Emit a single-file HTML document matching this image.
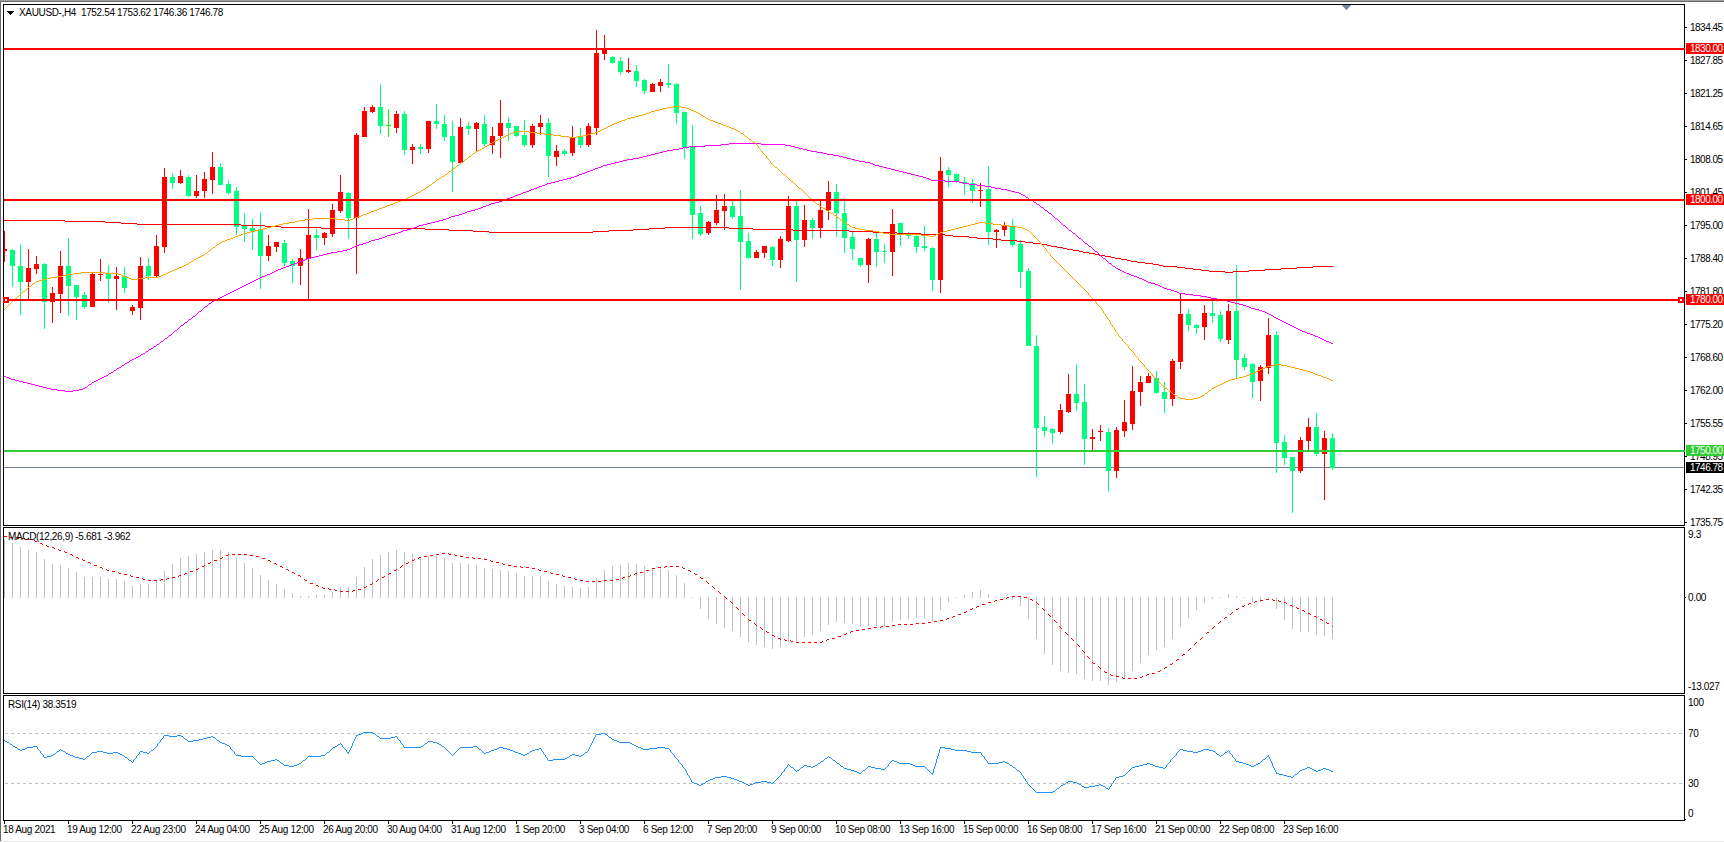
<!DOCTYPE html>
<html><head><meta charset="utf-8"><title>XAUUSD H4</title>
<style>html,body{margin:0;padding:0;background:#fff;overflow:hidden}body{width:1724px;height:842px;position:relative;font-family:"Liberation Sans",sans-serif;}svg{position:absolute;left:0;top:0;display:block}text{font-family:"Liberation Sans",sans-serif;font-size:11px;fill:#000}.w{fill:#fff}</style></head><body>
<svg width="1724" height="842" viewBox="0 0 1724 842" shape-rendering="crispEdges">
<rect x="0" y="0" width="1724" height="842" fill="#fff"/>
<rect x="0" y="0" width="1724" height="1" fill="#a0a0a0"/>
<rect x="0" y="1" width="1724" height="1" fill="#696969"/>
<rect x="0" y="1" width="1" height="840" fill="#696969"/>
<rect x="0" y="0" width="1" height="1" fill="#a0a0a0"/>
<rect x="0" y="841" width="1724" height="1" fill="#e4e4e4"/>
<defs><clipPath id="cm"><rect x="4" y="5" width="1680" height="520"/></clipPath><clipPath id="cd"><rect x="4" y="528" width="1680" height="165"/></clipPath><clipPath id="cr"><rect x="4" y="696" width="1680" height="124"/></clipPath></defs>
<g clip-path="url(#cm)">
<rect x="4" y="467" width="1681" height="1" fill="#708090"/>
<path d="M4 231h1v31h-1zM28 249h1v52h-1zM36 256h1v18h-1zM52 287h1v36h-1zM60 251h1v62h-1zM92 273h1v34h-1zM100 259h1v22h-1zM116 267h1v43h-1zM132 305h1v10h-1zM140 257h1v63h-1zM156 235h1v43h-1zM164 168h1v85h-1zM180 170h1v14h-1zM196 175h1v23h-1zM204 172h1v26h-1zM212 152h1v42h-1zM268 235h1v26h-1zM276 242h1v10h-1zM300 249h1v36h-1zM308 209h1v91h-1zM324 232h1v13h-1zM332 204h1v33h-1zM340 175h1v38h-1zM356 133h1v141h-1zM364 107h1v30h-1zM372 105h1v8h-1zM396 111h1v22h-1zM412 144h1v20h-1zM428 121h1v32h-1zM460 118h1v46h-1zM476 122h1v29h-1zM492 127h1v27h-1zM500 100h1v58h-1zM532 124h1v24h-1zM540 115h1v20h-1zM556 145h1v21h-1zM572 126h1v30h-1zM588 123h1v24h-1zM596 30h1v105h-1zM604 35h1v25h-1zM628 58h1v15h-1zM652 83h1v9h-1zM660 79h1v13h-1zM708 221h1v14h-1zM716 195h1v30h-1zM724 194h1v36h-1zM756 250h1v8h-1zM764 246h1v12h-1zM780 236h1v32h-1zM788 196h1v46h-1zM804 205h1v42h-1zM820 200h1v38h-1zM828 181h1v39h-1zM868 238h1v45h-1zM892 209h1v67h-1zM940 157h1v136h-1zM980 183h1v24h-1zM996 229h1v19h-1zM1004 222h1v14h-1zM1060 404h1v30h-1zM1068 374h1v39h-1zM1092 429h1v21h-1zM1100 425h1v16h-1zM1116 427h1v51h-1zM1124 400h1v37h-1zM1132 366h1v64h-1zM1140 376h1v30h-1zM1148 373h1v10h-1zM1172 359h1v47h-1zM1180 293h1v76h-1zM1204 305h1v35h-1zM1228 304h1v40h-1zM1260 365h1v36h-1zM1268 318h1v56h-1zM1300 437h1v36h-1zM1308 418h1v33h-1zM1324 431h1v69h-1z" fill="#ff0000"/>
<path d="M2 249h5v2h-5zM26 268h5v14h-5zM34 264h5v5h-5zM50 293h5v9h-5zM58 266h5v28h-5zM90 274h5v33h-5zM98 274h5v1h-5zM114 276h5v3h-5zM130 307h5v4h-5zM138 266h5v42h-5zM154 246h5v30h-5zM162 177h5v70h-5zM178 176h5v7h-5zM194 191h5v5h-5zM202 179h5v12h-5zM210 167h5v13h-5zM266 246h5v10h-5zM274 242h5v5h-5zM298 258h5v8h-5zM306 235h5v24h-5zM322 233h5v5h-5zM330 210h5v24h-5zM338 192h5v19h-5zM354 135h5v83h-5zM362 111h5v26h-5zM370 107h5v5h-5zM394 114h5v14h-5zM410 147h5v3h-5zM426 121h5v28h-5zM458 127h5v36h-5zM474 123h5v6h-5zM490 136h5v9h-5zM498 123h5v13h-5zM530 126h5v19h-5zM538 123h5v4h-5zM554 151h5v6h-5zM570 137h5v16h-5zM586 126h5v19h-5zM594 53h5v75h-5zM602 48h5v6h-5zM626 70h5v2h-5zM650 84h5v8h-5zM658 82h5v4h-5zM706 222h5v11h-5zM714 210h5v13h-5zM722 206h5v5h-5zM754 252h5v6h-5zM762 246h5v7h-5zM778 239h5v21h-5zM786 206h5v35h-5zM802 220h5v20h-5zM818 210h5v18h-5zM826 192h5v18h-5zM866 239h5v26h-5zM890 224h5v28h-5zM938 171h5v109h-5zM978 190h5v1h-5zM994 230h5v2h-5zM1002 226h5v4h-5zM1058 410h5v22h-5zM1066 394h5v18h-5zM1090 437h5v2h-5zM1098 431h5v1h-5zM1114 430h5v41h-5zM1122 422h5v9h-5zM1130 391h5v33h-5zM1138 382h5v10h-5zM1146 376h5v7h-5zM1170 361h5v38h-5zM1178 314h5v48h-5zM1202 313h5v14h-5zM1226 311h5v29h-5zM1258 367h5v14h-5zM1266 335h5v33h-5zM1298 440h5v31h-5zM1306 427h5v14h-5zM1322 438h5v16h-5z" fill="#ff0000"/>
<path d="M12 249h1v38h-1zM20 244h1v71h-1zM44 263h1v66h-1zM68 238h1v78h-1zM76 285h1v35h-1zM84 292h1v17h-1zM108 265h1v38h-1zM124 267h1v26h-1zM148 258h1v22h-1zM172 173h1v16h-1zM188 175h1v22h-1zM220 163h1v22h-1zM228 180h1v15h-1zM236 187h1v48h-1zM244 213h1v29h-1zM252 219h1v31h-1zM260 212h1v77h-1zM284 240h1v26h-1zM292 259h1v24h-1zM316 229h1v21h-1zM348 192h1v47h-1zM380 84h1v50h-1zM404 111h1v44h-1zM420 144h1v10h-1zM436 104h1v25h-1zM444 115h1v26h-1zM452 121h1v71h-1zM468 122h1v13h-1zM484 115h1v31h-1zM508 117h1v24h-1zM516 126h1v11h-1zM524 120h1v27h-1zM548 118h1v59h-1zM564 149h1v7h-1zM580 128h1v20h-1zM612 56h1v7h-1zM620 57h1v18h-1zM636 65h1v22h-1zM644 79h1v15h-1zM668 64h1v24h-1zM676 83h1v41h-1zM684 112h1v47h-1zM692 125h1v114h-1zM700 206h1v30h-1zM732 200h1v19h-1zM740 190h1v100h-1zM748 233h1v26h-1zM772 246h1v20h-1zM796 201h1v81h-1zM812 218h1v21h-1zM836 184h1v53h-1zM844 198h1v55h-1zM852 232h1v28h-1zM860 258h1v9h-1zM876 233h1v34h-1zM884 244h1v19h-1zM900 223h1v23h-1zM908 232h1v7h-1zM916 233h1v20h-1zM924 226h1v25h-1zM932 247h1v44h-1zM948 167h1v20h-1zM956 173h1v10h-1zM964 177h1v18h-1zM972 179h1v24h-1zM988 166h1v79h-1zM1012 219h1v28h-1zM1020 240h1v48h-1zM1028 268h1v78h-1zM1036 335h1v142h-1zM1044 416h1v21h-1zM1052 428h1v16h-1zM1076 364h1v47h-1zM1084 384h1v81h-1zM1108 428h1v64h-1zM1156 371h1v23h-1zM1164 382h1v31h-1zM1188 309h1v22h-1zM1196 324h1v10h-1zM1212 301h1v22h-1zM1220 311h1v31h-1zM1236 265h1v114h-1zM1244 354h1v16h-1zM1252 363h1v35h-1zM1276 331h1v142h-1zM1284 435h1v30h-1zM1292 457h1v56h-1zM1316 413h1v43h-1zM1332 433h1v37h-1z" fill="#00ff7f"/>
<path d="M10 250h5v16h-5zM18 266h5v16h-5zM42 264h5v38h-5zM66 266h5v20h-5zM74 285h5v12h-5zM82 295h5v12h-5zM106 274h5v5h-5zM122 276h5v12h-5zM146 266h5v10h-5zM170 177h5v6h-5zM186 177h5v19h-5zM218 167h5v18h-5zM226 184h5v9h-5zM234 191h5v36h-5zM242 226h5v3h-5zM250 228h5v3h-5zM258 229h5v27h-5zM282 243h5v20h-5zM290 261h5v5h-5zM314 235h5v3h-5zM346 193h5v25h-5zM378 107h5v19h-5zM402 114h5v36h-5zM418 147h5v2h-5zM434 121h5v3h-5zM442 124h5v13h-5zM450 136h5v26h-5zM466 126h5v3h-5zM482 124h5v20h-5zM506 123h5v5h-5zM514 126h5v10h-5zM522 135h5v10h-5zM546 123h5v33h-5zM562 151h5v3h-5zM578 136h5v9h-5zM610 57h5v6h-5zM618 61h5v11h-5zM634 71h5v10h-5zM642 80h5v11h-5zM666 83h5v2h-5zM674 84h5v29h-5zM682 112h5v35h-5zM690 147h5v68h-5zM698 213h5v21h-5zM730 206h5v11h-5zM738 216h5v26h-5zM746 241h5v17h-5zM770 247h5v13h-5zM794 206h5v34h-5zM810 220h5v8h-5zM834 192h5v21h-5zM842 213h5v25h-5zM850 237h5v12h-5zM858 258h5v7h-5zM874 239h5v13h-5zM882 251h5v1h-5zM898 223h5v12h-5zM906 234h5v2h-5zM914 236h5v11h-5zM922 246h5v2h-5zM930 248h5v32h-5zM946 170h5v5h-5zM954 174h5v8h-5zM962 182h5v2h-5zM970 183h5v8h-5zM986 189h5v43h-5zM1010 226h5v19h-5zM1018 244h5v28h-5zM1026 271h5v75h-5zM1034 346h5v82h-5zM1042 427h5v4h-5zM1050 429h5v4h-5zM1074 394h5v9h-5zM1082 402h5v37h-5zM1106 432h5v39h-5zM1154 378h5v15h-5zM1162 392h5v7h-5zM1186 314h5v11h-5zM1194 325h5v3h-5zM1210 313h5v3h-5zM1218 315h5v24h-5zM1234 311h5v49h-5zM1242 358h5v9h-5zM1250 364h5v18h-5zM1274 335h5v108h-5zM1282 442h5v16h-5zM1290 457h5v14h-5zM1314 427h5v27h-5zM1330 438h5v30h-5z" fill="#00ff7f"/>
<path d="M388 109h1v28h-1z" fill="#00ff00"/>
<path d="M386 125h5v1h-5z" fill="#00ff00"/>
<path d="M4 220h61M65 221h40M105 222h16M121 223h16M137 224h104M241 225h24M265 226h16M281 227h40M665 227h64M321 228h104M649 228h16M729 228h24M425 229h24M633 229h16M753 229h40M449 230h24M609 230h24M793 230h56M473 231h16M593 231h16M849 231h24M489 232h104M873 232h24M897 233h24M921 234h24M945 235h8M953 236h16M969 237h8M977 238h16M993 239h8M1001 240h16M1017 241h8M1025 242h8M1033 243h8M1041 244h6M1047 245h4M1051 246h6M1057 247h6M1063 248h4M1067 249h6M1073 250h6M1079 251h4M1083 252h6M1089 253h6M1095 254h4M1099 255h6M1105 256h6M1111 257h4M1115 258h6M1121 259h6M1127 260h4M1131 261h6M1137 262h8M1145 263h8M1153 264h6M1159 265h4M1163 266h14M1313 266h20M1177 267h8M1297 267h16M1185 268h8M1281 268h16M1193 269h8M1265 269h16M1201 270h8M1249 270h16M1209 271h16M1233 271h16M1225 272h8" fill="none" stroke="#ff0000" stroke-width="1" transform="translate(0,0.5)"/>
<path d="M729 143h32M721 144h8M761 144h24M705 145h16M785 145h6M689 146h16M791 146h4M683 147h6M795 147h4M679 148h4M799 148h4M673 149h6M803 149h4M667 150h6M807 150h4M663 151h4M811 151h6M659 152h4M817 152h6M655 153h4M823 153h4M651 154h4M827 154h6M647 155h4M833 155h6M643 156h4M839 156h4M639 157h4M843 157h4M633 158h6M847 158h4M627 159h6M851 159h4M623 160h4M855 160h4M619 161h4M859 161h6M615 162h4M865 162h5M611 163h4M870 163h3M607 164h4M873 164h2M603 165h4M875 165h4M601 166h2M879 166h4M598 167h3M883 167h4M595 168h3M887 168h4M593 169h2M891 169h4M590 170h3M895 170h4M587 171h3M899 171h4M585 172h2M903 172h4M582 173h3M907 173h4M579 174h3M911 174h4M577 175h2M915 175h4M574 176h3M919 176h4M571 177h3M923 177h3M567 178h4M926 178h3M563 179h4M929 179h2M559 180h4M931 180h14M555 181h4M945 181h14M551 182h4M959 182h4M547 183h4M963 183h6M545 184h2M969 184h8M542 185h3M977 185h8M539 186h3M985 186h6M537 187h2M991 187h4M534 188h3M995 188h6M531 189h3M1001 189h6M529 190h2M1007 190h4M526 191h3M1011 191h4M523 192h3M1015 192h4M521 193h2M1019 193h2M518 194h3M1021 194h2M515 195h3M1023 195h2M513 196h2M1025 196h1M510 197h3M1026 197h2M507 198h3M1028 198h1M505 199h2M1029 199h2M502 200h3M1031 200h2M499 201h3M1033 201h1M495 202h4M1034 202h2M491 203h4M1036 203h1M489 204h2M1037 204h2M486 205h3M1039 205h1M483 206h3M1040 206h1M481 207h2M1041 207h2M478 208h3M1043 208h1M475 209h3M1044 209h1M471 210h4M1045 210h2M467 211h4M1047 211h1M465 212h2M1048 212h1M462 213h3M1049 213h2M459 214h3M1051 214h1M455 215h4M1052 215h1M451 216h4M1053 216h1M449 217h2M1054 217h1M446 218h3M1055 218h2M443 219h3M1057 219h1M439 220h4M1058 220h1M435 221h4M1059 221h1M431 222h4M1060 222h1M427 223h4M1061 223h1M423 224h4M1062 224h1M419 225h4M1063 225h2M417 226h2M1065 226h1M414 227h3M1066 227h1M411 228h3M1067 228h1M407 229h4M1068 229h1M403 230h4M1069 230h2M401 231h2M1071 231h1M398 232h3M1072 232h1M395 233h3M1073 233h2M391 234h4M1075 234h1M387 235h4M1076 235h1M385 236h2M1077 236h1M382 237h3M1078 237h1M379 238h3M1079 238h2M375 239h4M1081 239h1M371 240h4M1082 240h1M369 241h2M1083 241h1M366 242h3M1084 242h1M363 243h3M1085 243h2M359 244h4M1087 244h1M356 245h3M1088 245h1M354 246h2M1089 246h2M352 247h2M1091 247h1M350 248h2M1092 248h1M347 249h3M1093 249h1M343 250h4M1094 250h1M337 251h6M1095 251h2M331 252h6M1097 252h1M327 253h4M1098 253h1M323 254h4M1099 254h1M319 255h4M1100 255h1M315 256h4M1101 256h1M311 257h4M1102 257h1M307 258h4M1103 258h2M305 259h2M1105 259h1M302 260h3M1106 260h1M299 261h3M1107 261h1M297 262h2M1108 262h1M294 263h3M1109 263h2M291 264h3M1111 264h1M289 265h2M1112 265h1M286 266h3M1113 266h2M283 267h3M1115 267h1M281 268h2M1116 268h2M278 269h3M1118 269h2M276 270h2M1120 270h2M274 271h2M1122 271h2M272 272h2M1124 272h2M270 273h2M1126 273h3M267 274h3M1129 274h2M265 275h2M1131 275h3M262 276h3M1134 276h3M260 277h2M1137 277h2M258 278h2M1139 278h3M256 279h2M1142 279h2M254 280h2M1144 280h2M252 281h2M1146 281h2M250 282h2M1148 282h3M248 283h2M1151 283h4M246 284h2M1155 284h3M244 285h2M1158 285h2M242 286h2M1160 286h2M240 287h2M1162 287h2M238 288h2M1164 288h3M236 289h2M1167 289h4M234 290h2M1171 290h3M232 291h2M1174 291h3M230 292h2M1177 292h2M228 293h2M1179 293h6M226 294h2M1185 294h8M224 295h2M1193 295h8M222 296h2M1201 296h6M220 297h2M1207 297h4M218 298h2M1211 298h6M216 299h2M1217 299h6M214 300h2M1223 300h4M212 301h2M1227 301h4M211 302h1M1231 302h4M209 303h2M1235 303h4M208 304h1M1239 304h4M207 305h1M1243 305h3M205 306h2M1246 306h3M204 307h1M1249 307h2M203 308h1M1251 308h4M202 309h1M1255 309h4M201 310h1M1259 310h3M199 311h2M1262 311h3M198 312h1M1265 312h2M197 313h1M1267 313h2M196 314h1M1269 314h2M195 315h1M1271 315h2M193 316h2M1273 316h1M192 317h1M1274 317h2M191 318h1M1276 318h2M189 319h2M1278 319h2M188 320h1M1280 320h2M187 321h1M1282 321h2M185 322h2M1284 322h2M184 323h1M1286 323h2M183 324h1M1288 324h2M181 325h2M1290 325h2M180 326h1M1292 326h2M179 327h1M1294 327h2M178 328h1M1296 328h2M177 329h1M1298 329h2M175 330h2M1300 330h2M174 331h1M1302 331h3M173 332h1M1305 332h2M172 333h1M1307 333h3M171 334h1M1310 334h3M169 335h2M1313 335h2M168 336h1M1315 336h3M167 337h1M1318 337h2M165 338h2M1320 338h2M164 339h1M1322 339h2M163 340h1M1324 340h2M161 341h2M1326 341h3M160 342h1M1329 342h2M159 343h1M1331 343h2M157 344h2M156 345h1M154 346h2M153 347h1M151 348h2M149 349h2M148 350h1M146 351h2M145 352h1M143 353h2M141 354h2M140 355h1M138 356h2M136 357h2M134 358h2M132 359h2M130 360h2M129 361h1M127 362h2M125 363h2M124 364h1M122 365h2M121 366h1M119 367h2M117 368h2M116 369h1M114 370h2M113 371h1M111 372h2M109 373h2M108 374h1M106 375h2M4 376h2M104 376h2M6 377h3M102 377h2M9 378h2M100 378h2M11 379h4M98 379h2M15 380h4M96 380h2M19 381h4M94 381h2M23 382h4M92 382h2M27 383h4M91 383h1M31 384h4M89 384h2M35 385h4M88 385h1M39 386h4M87 386h1M43 387h4M85 387h2M47 388h4M83 388h2M51 389h6M79 389h4M57 390h8M73 390h6M65 391h8" fill="none" stroke="#ff00ff" stroke-width="1" transform="translate(0,0.5)"/>
<path d="M673 106h8M667 107h6M681 107h5M663 108h4M686 108h3M659 109h4M689 109h2M655 110h4M691 110h3M651 111h4M694 111h2M649 112h2M696 112h2M646 113h3M698 113h2M643 114h3M700 114h1M639 115h4M701 115h2M635 116h4M703 116h2M631 117h4M705 117h1M627 118h4M706 118h2M625 119h2M708 119h2M622 120h3M710 120h3M619 121h3M713 121h2M617 122h2M715 122h3M614 123h3M718 123h3M612 124h2M721 124h2M610 125h2M723 125h3M608 126h2M726 126h3M606 127h2M729 127h2M604 128h2M731 128h3M602 129h2M734 129h2M600 130h2M736 130h2M515 131h14M598 131h2M738 131h2M513 132h2M529 132h8M595 132h3M740 132h1M510 133h3M537 133h8M591 133h4M741 133h2M508 134h2M545 134h8M587 134h4M743 134h1M506 135h2M553 135h8M583 135h4M744 135h1M504 136h2M561 136h8M577 136h6M745 136h2M502 137h2M569 137h8M747 137h1M500 138h2M748 138h1M498 139h2M749 139h2M496 140h2M751 140h1M494 141h2M752 141h1M492 142h2M753 142h2M490 143h2M755 143h1M489 144h1M756 144h1M487 145h2M757 145h1M485 146h2M758 146h1M484 147h1M758 147h1M482 148h2M759 148h1M480 149h2M760 149h1M478 150h2M761 150h1M476 151h2M762 151h1M475 152h1M762 152h1M473 153h2M763 153h1M472 154h1M764 154h1M471 155h1M765 155h1M469 156h2M766 156h1M468 157h1M766 157h1M467 158h1M767 158h1M465 159h2M768 159h1M464 160h1M769 160h1M463 161h1M770 161h1M461 162h2M770 162h1M460 163h1M771 163h1M459 164h1M772 164h1M457 165h2M773 165h1M456 166h1M774 166h1M455 167h1M775 167h2M453 168h2M777 168h1M452 169h1M778 169h1M451 170h1M779 170h1M449 171h2M780 171h1M448 172h1M781 172h1M447 173h1M782 173h1M445 174h2M783 174h2M444 175h1M785 175h1M442 176h2M786 176h1M441 177h1M787 177h1M439 178h2M788 178h1M437 179h2M789 179h1M436 180h1M790 180h1M435 181h1M791 181h2M433 182h2M793 182h1M432 183h1M794 183h1M431 184h1M795 184h1M429 185h2M796 185h1M428 186h1M797 186h1M426 187h2M798 187h1M425 188h1M799 188h2M423 189h2M801 189h1M421 190h2M802 190h1M420 191h1M803 191h1M418 192h2M804 192h1M416 193h2M805 193h1M414 194h2M806 194h1M412 195h2M807 195h1M410 196h2M808 196h1M408 197h2M809 197h1M406 198h2M810 198h1M403 199h3M811 199h1M401 200h2M812 200h1M398 201h3M813 201h2M395 202h3M815 202h1M393 203h2M816 203h1M390 204h3M817 204h2M387 205h3M819 205h1M385 206h2M820 206h1M382 207h3M821 207h2M379 208h3M823 208h2M377 209h2M825 209h1M374 210h3M826 210h2M371 211h3M828 211h1M369 212h2M829 212h2M366 213h3M831 213h2M363 214h3M833 214h1M361 215h2M834 215h2M358 216h3M836 216h1M355 217h3M837 217h2M313 218h24M353 218h2M839 218h1M305 219h8M337 219h8M350 219h3M840 219h1M299 220h6M345 220h5M841 220h2M295 221h4M843 221h1M289 222h6M844 222h1M979 222h6M283 223h6M845 223h2M975 223h4M985 223h8M279 224h4M847 224h2M971 224h4M993 224h8M275 225h4M849 225h1M967 225h4M1001 225h8M271 226h4M850 226h2M963 226h4M1009 226h8M267 227h4M852 227h3M959 227h4M1017 227h5M263 228h4M855 228h4M955 228h4M1022 228h3M259 229h4M859 229h6M951 229h4M1025 229h2M255 230h4M865 230h8M947 230h4M1027 230h2M251 231h4M873 231h6M943 231h4M1029 231h1M247 232h4M879 232h4M940 232h3M1030 232h1M243 233h4M883 233h6M938 233h2M1031 233h1M241 234h2M889 234h32M936 234h2M1032 234h1M238 235h3M921 235h8M934 235h2M1033 235h1M235 236h3M929 236h5M1034 236h1M233 237h2M1035 237h1M230 238h3M1036 238h1M227 239h3M1037 239h1M225 240h2M1038 240h1M222 241h3M1039 241h1M220 242h2M1040 242h1M219 243h1M1040 243h1M217 244h2M1041 244h1M216 245h1M1042 245h1M215 246h1M1043 246h1M213 247h2M1044 247h1M212 248h1M1045 248h1M211 249h1M1046 249h1M209 250h2M1046 250h1M208 251h1M1047 251h1M207 252h1M1048 252h1M205 253h2M1049 253h1M204 254h1M1050 254h1M202 255h2M1050 255h1M200 256h2M1051 256h1M198 257h2M1052 257h1M196 258h2M1053 258h1M194 259h2M1054 259h1M193 260h1M1055 260h1M191 261h2M1056 261h1M189 262h2M1057 262h1M188 263h1M1058 263h1M186 264h2M1059 264h1M184 265h2M1060 265h1M182 266h2M1061 266h1M179 267h3M1062 267h1M177 268h2M1063 268h1M174 269h3M1064 269h1M172 270h2M1065 270h1M170 271h2M1066 271h1M81 272h24M168 272h2M1067 272h1M73 273h8M105 273h13M166 273h2M1068 273h1M67 274h6M118 274h3M163 274h3M1069 274h1M63 275h4M121 275h2M161 275h2M1070 275h1M57 276h6M123 276h3M158 276h3M1071 276h1M51 277h6M126 277h3M145 277h13M1072 277h1M47 278h4M129 278h2M137 278h8M1073 278h1M43 279h4M131 279h6M1074 279h1M39 280h4M1075 280h1M36 281h3M1076 281h1M35 282h1M1077 282h1M33 283h2M1078 283h1M32 284h1M1079 284h1M31 285h1M1080 285h1M29 286h2M1081 286h1M28 287h1M1082 287h1M27 288h1M1083 288h1M26 289h1M1084 289h1M25 290h1M1085 290h1M23 291h2M1086 291h1M22 292h1M1087 292h1M21 293h1M1088 293h1M20 294h1M1088 294h1M19 295h1M1089 295h1M18 296h1M1090 296h1M17 297h1M1091 297h1M15 298h2M1092 298h1M14 299h1M1093 299h1M13 300h1M1094 300h1M12 301h1M1095 301h1M11 302h1M1096 302h1M10 303h1M1096 303h1M9 304h1M1097 304h1M8 305h1M1098 305h1M7 306h1M1099 306h1M6 307h1M1100 307h1M5 308h1M1101 308h1M4 309h1M1101 309h1M1102 310h1M1103 311h1M1103 312h1M1104 313h1M1105 314h1M1105 315h1M1106 316h1M1107 317h1M1107 318h1M1108 319h1M1109 320h1M1109 321h1M1110 322h1M1110 323h1M1111 324h1M1112 325h1M1112 326h1M1113 327h1M1114 328h1M1114 329h1M1115 330h1M1115 331h1M1116 332h1M1117 333h1M1118 334h1M1118 335h1M1119 336h1M1120 337h1M1121 338h1M1122 339h1M1122 340h1M1123 341h1M1124 342h1M1125 343h1M1126 344h1M1127 345h1M1128 346h1M1128 347h1M1129 348h1M1130 349h1M1131 350h1M1132 351h1M1133 352h1M1134 353h1M1134 354h1M1135 355h1M1136 356h1M1137 357h1M1138 358h1M1138 359h1M1139 360h1M1140 361h1M1141 362h1M1142 363h1M1143 364h1M1275 364h6M1144 365h1M1271 365h4M1281 365h6M1144 366h1M1267 366h4M1287 366h4M1145 367h1M1265 367h2M1291 367h4M1146 368h1M1262 368h3M1295 368h4M1147 369h1M1260 369h2M1299 369h4M1148 370h1M1258 370h2M1303 370h4M1149 371h1M1256 371h2M1307 371h3M1150 372h1M1254 372h2M1310 372h3M1151 373h1M1251 373h3M1313 373h2M1152 374h1M1249 374h2M1315 374h3M1152 375h1M1246 375h3M1318 375h3M1153 376h1M1243 376h3M1321 376h2M1154 377h1M1239 377h4M1323 377h3M1155 378h1M1235 378h4M1326 378h3M1156 379h1M1231 379h4M1329 379h2M1157 380h1M1228 380h3M1331 380h2M1158 381h1M1226 381h2M1159 382h1M1224 382h2M1160 383h1M1222 383h2M1161 384h1M1220 384h2M1162 385h1M1218 385h2M1163 386h1M1216 386h2M1164 387h1M1214 387h2M1165 388h2M1212 388h2M1167 389h1M1211 389h1M1168 390h1M1209 390h2M1169 391h2M1208 391h1M1171 392h1M1207 392h1M1172 393h1M1205 393h2M1173 394h2M1204 394h1M1175 395h2M1202 395h2M1177 396h1M1200 396h2M1178 397h2M1198 397h2M1180 398h5M1193 398h5M1185 399h8" fill="none" stroke="#ffa500" stroke-width="1" transform="translate(0,0.5)"/>
</g>
<g clip-path="url(#cd)">
<path d="M4 540h1v58h-1zM12 543h1v55h-1zM20 547h1v51h-1zM28 550h1v48h-1zM36 552h1v46h-1zM44 559h1v39h-1zM52 564h1v34h-1zM60 565h1v33h-1zM68 568h1v30h-1zM76 572h1v26h-1zM84 577h1v21h-1zM92 577h1v21h-1zM100 577h1v21h-1zM108 579h1v19h-1zM116 579h1v19h-1zM124 581h1v17h-1zM132 586h1v12h-1zM140 584h1v14h-1zM148 584h1v14h-1zM156 581h1v17h-1zM164 571h1v27h-1zM172 564h1v34h-1zM180 558h1v40h-1zM188 556h1v42h-1zM196 554h1v44h-1zM204 552h1v46h-1zM212 550h1v48h-1zM220 550h1v48h-1zM228 552h1v46h-1zM236 558h1v40h-1zM244 563h1v35h-1zM252 568h1v30h-1zM260 575h1v23h-1zM268 580h1v18h-1zM276 584h1v14h-1zM284 589h1v9h-1zM292 593h1v5h-1zM300 596h1v2h-1zM308 596h1v2h-1zM316 595h1v3h-1zM324 595h1v3h-1zM332 592h1v6h-1zM340 587h1v11h-1zM348 587h1v11h-1zM356 577h1v21h-1zM364 567h1v31h-1zM372 559h1v39h-1zM380 555h1v43h-1zM388 552h1v46h-1zM396 550h1v48h-1zM404 552h1v46h-1zM412 554h1v44h-1zM420 557h1v41h-1zM428 556h1v42h-1zM436 556h1v42h-1zM444 558h1v40h-1zM452 563h1v35h-1zM460 563h1v35h-1zM468 564h1v34h-1zM476 565h1v33h-1zM484 568h1v30h-1zM492 569h1v29h-1zM500 570h1v28h-1zM508 571h1v27h-1zM516 573h1v25h-1zM524 576h1v22h-1zM532 576h1v22h-1zM540 576h1v22h-1zM548 581h1v17h-1zM556 584h1v14h-1zM564 586h1v12h-1zM572 587h1v11h-1zM580 588h1v10h-1zM588 587h1v11h-1zM596 578h1v20h-1zM604 570h1v28h-1zM612 566h1v32h-1zM620 565h1v33h-1zM628 563h1v35h-1zM636 564h1v34h-1zM644 566h1v32h-1zM652 568h1v30h-1zM660 569h1v29h-1zM668 570h1v28h-1zM676 575h1v23h-1zM684 583h1v15h-1zM692 597h1v1h-1zM700 597h1v12h-1zM708 597h1v22h-1zM716 597h1v27h-1zM724 597h1v31h-1zM732 597h1v34h-1zM740 597h1v40h-1zM748 597h1v45h-1zM756 597h1v48h-1zM764 597h1v50h-1zM772 597h1v52h-1zM780 597h1v50h-1zM788 597h1v45h-1zM796 597h1v44h-1zM804 597h1v40h-1zM812 597h1v38h-1zM820 597h1v34h-1zM828 597h1v28h-1zM836 597h1v25h-1zM844 597h1v26h-1zM852 597h1v27h-1zM860 597h1v30h-1zM868 597h1v29h-1zM876 597h1v29h-1zM884 597h1v29h-1zM892 597h1v25h-1zM900 597h1v23h-1zM908 597h1v22h-1zM916 597h1v21h-1zM924 597h1v21h-1zM932 597h1v24h-1zM940 597h1v13h-1zM948 597h1v5h-1zM956 597h1v1h-1zM964 595h1v3h-1zM972 592h1v6h-1zM980 590h1v8h-1zM988 594h1v4h-1zM996 597h1v1h-1zM1004 597h1v2h-1zM1012 597h1v3h-1zM1020 597h1v9h-1zM1028 597h1v22h-1zM1036 597h1v42h-1zM1044 597h1v57h-1zM1052 597h1v68h-1zM1060 597h1v74h-1zM1068 597h1v76h-1zM1076 597h1v77h-1zM1084 597h1v82h-1zM1092 597h1v84h-1zM1100 597h1v84h-1zM1108 597h1v88h-1zM1116 597h1v85h-1zM1124 597h1v81h-1zM1132 597h1v74h-1zM1140 597h1v66h-1zM1148 597h1v58h-1zM1156 597h1v53h-1zM1164 597h1v50h-1zM1172 597h1v42h-1zM1180 597h1v30h-1zM1188 597h1v21h-1zM1196 597h1v13h-1zM1204 597h1v6h-1zM1212 597h1v2h-1zM1220 597h1v1h-1zM1228 594h1v4h-1zM1236 596h1v2h-1zM1244 597h1v1h-1zM1252 597h1v5h-1zM1260 597h1v5h-1zM1268 597h1v3h-1zM1276 597h1v12h-1zM1284 597h1v23h-1zM1292 597h1v32h-1zM1300 597h1v35h-1zM1308 597h1v35h-1zM1316 597h1v38h-1zM1324 597h1v39h-1zM1332 597h1v42h-1z" fill="#c0c0c0"/>
<path d="M4 536h3M10 537h3M16 537h1M17 538h2M22 538h3M28 539h3M34 540h1M35 541h2M40 543h2M42 544h1M46 545h1M47 546h2M52 547h2M54 548h1M58 549h1M59 550h2M64 551h1M65 552h2M442 553h3M448 553h1M70 554h2M228 554h1M232 554h3M238 554h3M244 554h3M436 554h3M449 554h2M454 554h1M72 555h1M226 555h2M250 555h3M430 555h3M455 555h2M256 556h3M424 556h3M460 556h3M76 557h2M222 557h1M419 557h2M466 557h3M472 557h1M78 558h1M220 558h2M262 558h3M418 558h1M473 558h2M478 558h3M82 559h1M414 559h1M484 559h3M83 560h2M214 560h3M268 560h2M412 560h2M490 560h1M270 561h1M491 561h2M88 562h2M210 562h1M408 562h1M496 562h3M90 563h1M208 563h2M274 563h2M406 563h2M502 563h1M276 564h1M503 564h2M94 565h3M204 565h1M402 565h1M508 565h3M202 566h2M280 566h2M401 566h1M514 566h3M520 566h1M665 566h2M670 566h3M676 566h3M100 567h2M282 567h1M400 567h1M521 567h2M526 567h3M658 567h3M664 567h1M682 567h1M102 568h1M198 568h1M532 568h3M652 568h3M683 568h2M106 569h1M196 569h2M286 569h2M396 569h1M538 569h1M107 570h2M288 570h1M394 570h2M539 570h2M646 570h3M688 570h2M112 571h3M190 571h3M544 571h3M690 571h1M118 572h1M292 572h2M550 572h1M640 572h3M119 573h2M185 573h2M294 573h1M389 573h2M551 573h2M635 573h2M694 573h1M124 574h3M184 574h1M388 574h1M556 574h3M634 574h1M695 574h2M130 575h1M179 575h2M298 575h2M562 575h1M630 575h1M131 576h2M178 576h1M300 576h1M384 576h1M563 576h2M628 576h2M136 577h3M172 577h3M382 577h2M568 577h3M623 577h2M700 577h1M142 578h1M167 578h2M574 578h1M622 578h1M701 578h2M143 579h2M161 579h2M166 579h1M304 579h1M378 579h1M575 579h2M616 579h3M148 580h3M154 580h3M160 580h1M305 580h2M377 580h1M580 580h3M604 580h3M610 580h3M376 581h1M586 581h3M592 581h3M598 581h3M706 581h1M707 582h1M310 583h3M372 583h1M708 583h1M370 584h2M316 585h2M318 586h1M366 586h1M712 586h1M322 587h1M364 587h2M713 587h1M323 588h2M328 588h1M714 588h1M329 589h2M334 589h1M358 589h3M335 590h2M353 590h2M340 591h3M346 591h3M352 591h1M718 591h1M719 592h1M720 593h1M724 596h1M1012 596h3M1018 596h3M725 597h1M1007 597h2M1024 597h3M726 598h1M1006 598h1M1000 599h3M1030 599h2M1266 599h3M1272 599h1M995 600h2M1032 600h1M1260 600h3M1273 600h2M1278 600h1M730 601h1M994 601h1M1255 601h2M1279 601h2M731 602h1M988 602h3M1036 602h1M1254 602h1M1284 602h2M732 603h1M1037 603h1M1249 603h2M1286 603h1M982 604h3M1038 604h1M1248 604h1M1244 605h1M1290 605h2M977 606h2M1242 606h2M1292 606h1M736 607h1M976 607h1M1296 607h1M737 608h1M972 608h1M1042 608h1M1238 608h1M1297 608h2M738 609h1M970 609h2M1043 609h1M1236 609h2M1044 610h1M1302 610h2M966 611h1M1304 611h1M964 612h2M1232 612h1M742 613h1M1231 613h1M1308 613h2M743 614h1M958 614h3M1048 614h1M1230 614h1M1310 614h1M744 615h1M1049 615h1M953 616h2M1050 616h1M1314 616h2M952 617h1M1225 617h2M1316 617h1M947 618h2M1224 618h1M748 619h1M946 619h1M1320 619h2M749 620h2M940 620h3M1054 620h1M1322 620h1M934 621h3M1055 621h1M1220 621h1M928 622h3M1056 622h1M1219 622h1M1326 622h1M754 623h1M916 623h3M922 623h3M1218 623h1M1327 623h2M755 624h1M898 624h3M904 624h3M910 624h3M756 625h1M892 625h3M881 626h2M886 626h3M1059 626h1M1214 626h1M1332 626h1M760 627h1M874 627h3M880 627h1M1060 627h1M1213 627h1M761 628h1M868 628h3M1061 628h1M1212 628h1M762 629h1M862 629h3M856 630h3M766 631h1M851 631h2M767 632h2M850 632h1M1065 632h1M1207 632h2M846 633h1M1066 633h1M1206 633h1M844 634h2M1067 634h1M772 635h2M774 636h1M838 636h3M1202 637h1M778 638h2M832 638h3M1071 638h1M1201 638h1M780 639h1M784 639h1M827 639h2M1072 639h1M1200 639h1M785 640h2M790 640h1M826 640h1M1073 640h1M791 641h2M822 641h1M796 642h3M802 642h3M808 642h3M814 642h3M820 642h2M1196 642h1M1195 643h1M1077 644h1M1194 644h1M1078 645h1M1079 646h1M1190 648h1M1189 649h1M1082 650h1M1188 650h1M1083 651h1M1084 652h1M1183 654h2M1182 655h1M1087 656h1M1088 657h1M1089 658h1M1177 659h2M1176 660h1M1092 662h1M1093 663h2M1172 663h1M1170 664h2M1098 666h1M1099 667h1M1165 667h2M1100 668h1M1164 668h1M1160 670h1M1104 671h1M1158 671h2M1105 672h2M1152 673h3M1110 674h1M1147 674h2M1111 675h2M1146 675h1M1116 676h3M1142 676h1M1122 677h1M1140 677h2M1123 678h2M1128 678h3M1134 678h3" fill="none" stroke="#ff0000" stroke-width="1" transform="translate(0,0.5)"/>
</g>
<g clip-path="url(#cr)">
<path d="M5 733.5H1684M5 783.5H1684" stroke="#c0c0c0" stroke-width="1" stroke-dasharray="3 3" fill="none"/>
<path d="M363 732h10M361 733h2M373 733h2M601 733h4M358 734h3M375 734h1M596 734h5M605 734h2M164 735h5M177 735h4M356 735h2M376 735h1M595 735h1M607 735h1M163 736h1M169 736h8M181 736h2M211 736h2M356 736h1M377 736h2M395 736h2M595 736h1M608 736h1M163 737h1M183 737h1M207 737h4M213 737h2M355 737h1M379 737h1M391 737h4M397 737h1M594 737h1M609 737h2M162 738h1M184 738h1M203 738h4M215 738h1M355 738h1M380 738h11M397 738h1M594 738h1M611 738h1M161 739h1M185 739h2M199 739h4M216 739h1M354 739h1M398 739h1M593 739h1M612 739h2M4 740h1M160 740h1M187 740h1M193 740h6M217 740h2M354 740h1M399 740h1M593 740h1M614 740h3M5 741h2M160 741h1M188 741h5M219 741h1M353 741h1M400 741h1M428 741h5M592 741h1M617 741h2M7 742h2M159 742h1M220 742h2M353 742h1M400 742h1M427 742h1M433 742h4M592 742h1M619 742h11M9 743h1M158 743h1M222 743h3M340 743h1M352 743h1M401 743h1M425 743h2M437 743h2M591 743h1M630 743h2M10 744h2M157 744h1M225 744h2M338 744h2M341 744h1M352 744h1M402 744h1M424 744h1M439 744h2M591 744h1M632 744h2M12 745h1M157 745h1M227 745h2M337 745h1M342 745h1M352 745h1M403 745h1M423 745h1M441 745h1M590 745h1M634 745h2M13 746h2M33 746h4M156 746h1M229 746h1M335 746h2M342 746h1M351 746h1M403 746h1M421 746h2M442 746h2M473 746h4M590 746h1M636 746h2M15 747h2M27 747h6M37 747h1M155 747h1M230 747h1M333 747h2M343 747h1M351 747h1M404 747h17M444 747h1M460 747h13M477 747h1M499 747h4M589 747h1M638 747h3M657 747h8M940 747h5M17 748h1M25 748h2M37 748h1M154 748h1M230 748h1M332 748h1M344 748h1M350 748h1M445 748h1M459 748h1M478 748h1M497 748h2M503 748h4M539 748h2M589 748h1M641 748h2M649 748h8M665 748h4M940 748h1M945 748h6M18 749h2M22 749h3M38 749h1M60 749h1M153 749h1M231 749h1M331 749h1M345 749h1M350 749h1M446 749h1M458 749h1M479 749h2M494 749h3M507 749h3M535 749h4M541 749h1M588 749h1M643 749h6M669 749h1M939 749h1M951 749h4M1180 749h3M1203 749h6M20 750h2M39 750h1M59 750h1M61 750h2M151 750h2M232 750h1M330 750h1M346 750h1M349 750h1M447 750h1M457 750h1M481 750h1M491 750h3M510 750h3M532 750h3M541 750h1M588 750h1M670 750h1M939 750h1M955 750h12M1179 750h1M1183 750h4M1201 750h2M1209 750h4M1228 750h1M40 751h1M57 751h2M63 751h2M97 751h6M140 751h3M150 751h1M233 751h1M329 751h1M346 751h1M349 751h1M448 751h1M456 751h1M482 751h1M489 751h2M513 751h2M530 751h2M542 751h1M587 751h1M670 751h1M939 751h1M967 751h4M1178 751h1M1187 751h6M1198 751h3M1213 751h2M1227 751h1M1229 751h1M40 752h1M56 752h1M65 752h1M92 752h5M103 752h4M113 752h5M139 752h1M143 752h4M149 752h1M234 752h1M327 752h2M347 752h2M449 752h1M455 752h1M483 752h1M486 752h3M515 752h3M529 752h1M543 752h1M585 752h2M671 752h1M939 752h1M971 752h10M1177 752h1M1193 752h5M1215 752h1M1225 752h2M1229 752h1M41 753h1M55 753h1M66 753h2M91 753h1M107 753h6M118 753h2M139 753h1M147 753h2M234 753h1M326 753h1M348 753h1M450 753h1M454 753h1M484 753h2M518 753h3M527 753h2M543 753h1M584 753h1M672 753h1M938 753h1M981 753h1M1176 753h1M1216 753h1M1224 753h1M1230 753h1M42 754h1M53 754h2M68 754h2M90 754h1M120 754h2M138 754h1M235 754h1M325 754h1M451 754h1M453 754h1M521 754h2M525 754h2M544 754h1M572 754h3M583 754h1M673 754h1M938 754h1M981 754h1M1176 754h1M1217 754h2M1223 754h1M1231 754h1M43 755h1M51 755h2M70 755h3M89 755h1M122 755h2M137 755h1M236 755h5M321 755h4M452 755h1M523 755h2M545 755h1M570 755h2M575 755h4M581 755h2M674 755h1M938 755h1M982 755h1M1175 755h1M1219 755h1M1221 755h2M1232 755h1M1268 755h1M43 756h1M47 756h4M73 756h2M87 756h2M124 756h1M136 756h1M241 756h12M308 756h13M545 756h1M569 756h1M579 756h2M674 756h1M828 756h1M937 756h1M983 756h1M1174 756h1M1220 756h1M1232 756h1M1267 756h2M44 757h3M75 757h4M86 757h1M125 757h2M136 757h1M253 757h1M307 757h1M546 757h1M567 757h2M675 757h1M827 757h1M829 757h2M937 757h1M984 757h1M1173 757h1M1233 757h1M1266 757h1M1269 757h1M79 758h4M85 758h1M127 758h1M135 758h1M254 758h1M306 758h1M547 758h1M565 758h2M676 758h1M825 758h2M831 758h1M937 758h1M984 758h1M1172 758h1M1234 758h1M1265 758h1M1269 758h1M83 759h2M128 759h1M134 759h1M255 759h1M275 759h2M305 759h1M547 759h1M553 759h12M677 759h1M824 759h1M832 759h1M936 759h1M985 759h1M1171 759h1M1235 759h1M1263 759h2M1270 759h1M129 760h2M133 760h1M256 760h1M271 760h4M277 760h2M303 760h2M548 760h5M678 760h1M823 760h1M833 760h2M892 760h2M936 760h1M986 760h1M1170 760h1M1235 760h1M1262 760h1M1270 760h1M131 761h1M133 761h1M257 761h1M267 761h4M279 761h1M302 761h1M678 761h1M821 761h2M835 761h1M891 761h1M894 761h3M936 761h1M987 761h1M1003 761h2M1170 761h1M1236 761h3M1261 761h1M1271 761h1M132 762h1M258 762h1M265 762h2M280 762h1M301 762h1M679 762h1M820 762h1M836 762h1M890 762h1M897 762h2M936 762h1M987 762h1M999 762h4M1005 762h2M1169 762h1M1239 762h4M1260 762h1M1271 762h1M259 763h1M262 763h3M281 763h2M299 763h2M680 763h1M818 763h2M837 763h2M889 763h1M899 763h11M935 763h1M988 763h11M1007 763h2M1147 763h3M1168 763h1M1243 763h3M1258 763h2M1272 763h1M260 764h2M283 764h1M297 764h2M681 764h1M788 764h1M817 764h1M839 764h1M888 764h1M910 764h3M935 764h1M1009 764h1M1143 764h4M1150 764h3M1167 764h1M1246 764h3M1256 764h2M1272 764h1M284 765h5M294 765h3M682 765h1M787 765h1M789 765h1M804 765h3M815 765h2M840 765h1M888 765h1M913 765h2M935 765h1M1010 765h2M1139 765h4M1153 765h2M1166 765h1M1249 765h2M1254 765h2M1272 765h1M289 766h5M682 766h1M787 766h1M790 766h1M803 766h1M807 766h4M813 766h2M841 766h2M868 766h3M887 766h1M915 766h10M934 766h1M1012 766h1M1135 766h4M1155 766h4M1166 766h1M1251 766h3M1273 766h1M683 767h1M786 767h1M791 767h2M801 767h2M811 767h2M843 767h1M867 767h1M871 767h4M886 767h1M925 767h1M934 767h1M1013 767h2M1132 767h3M1159 767h4M1165 767h1M1273 767h1M1307 767h3M684 768h1M785 768h1M793 768h1M800 768h1M844 768h3M866 768h1M875 768h6M885 768h1M926 768h1M934 768h1M1015 768h1M1131 768h1M1163 768h2M1274 768h1M1305 768h2M1310 768h2M1323 768h3M685 769h1M784 769h1M794 769h1M799 769h1M847 769h4M865 769h1M881 769h4M927 769h1M933 769h1M1016 769h1M1130 769h1M1274 769h1M1302 769h3M1312 769h2M1321 769h2M1326 769h3M685 770h1M784 770h1M795 770h1M797 770h2M851 770h3M863 770h2M928 770h1M933 770h1M1017 770h2M1129 770h1M1275 770h1M1300 770h2M1314 770h2M1318 770h3M1329 770h2M686 771h1M783 771h1M796 771h1M854 771h3M862 771h1M929 771h1M933 771h1M1019 771h1M1128 771h1M1275 771h1M1299 771h1M1316 771h2M1331 771h2M686 772h1M782 772h1M857 772h2M861 772h1M930 772h1M933 772h1M1020 772h1M1127 772h1M1276 772h1M1298 772h1M687 773h1M781 773h1M859 773h2M931 773h2M1021 773h1M1126 773h1M1276 773h3M1297 773h1M687 774h1M781 774h1M932 774h1M1021 774h1M1125 774h1M1279 774h4M1295 774h2M688 775h1M780 775h1M1022 775h1M1123 775h2M1283 775h4M1294 775h1M689 776h1M721 776h6M779 776h1M1023 776h1M1119 776h4M1287 776h4M1293 776h1M689 777h1M715 777h6M727 777h4M778 777h1M1023 777h1M1116 777h3M1291 777h2M690 778h1M713 778h2M731 778h3M777 778h1M1024 778h1M1115 778h1M690 779h1M710 779h3M734 779h3M776 779h1M1025 779h1M1115 779h1M691 780h1M708 780h2M737 780h2M775 780h1M1025 780h1M1114 780h1M691 781h1M706 781h2M739 781h3M761 781h6M774 781h1M1026 781h1M1068 781h5M1113 781h1M692 782h2M705 782h1M742 782h2M755 782h6M767 782h4M773 782h1M1027 782h1M1066 782h2M1073 782h4M1113 782h1M694 783h3M703 783h2M744 783h2M753 783h2M771 783h2M1027 783h1M1065 783h1M1077 783h2M1112 783h1M697 784h2M701 784h2M746 784h2M750 784h3M1028 784h1M1063 784h2M1079 784h2M1099 784h2M1111 784h1M699 785h2M748 785h2M1029 785h1M1061 785h2M1081 785h1M1095 785h4M1101 785h2M1111 785h1M1030 786h1M1060 786h1M1082 786h2M1089 786h6M1103 786h2M1110 786h1M1031 787h1M1059 787h1M1084 787h5M1105 787h1M1109 787h1M1032 788h1M1057 788h2M1106 788h2M1109 788h1M1033 789h1M1056 789h1M1108 789h1M1034 790h1M1055 790h1M1035 791h1M1053 791h2M1036 792h17" fill="none" stroke="#1e90ff" stroke-width="1" transform="translate(0,0.5)"/>
</g>
<path d="M3.5 4.5H1684.5V525.5H3.5z" fill="none" stroke="#000" stroke-width="1"/>
<path d="M3.5 527.5H1684.5V693.5H3.5z" fill="none" stroke="#000" stroke-width="1"/>
<path d="M3.5 695.5H1684.5V820.5H3.5z" fill="none" stroke="#000" stroke-width="1"/>
<rect x="4" y="48" width="1681" height="2" fill="#ff0000"/>
<rect x="4" y="199" width="1681" height="2" fill="#ff0000"/>
<rect x="4" y="299" width="1681" height="2" fill="#ff0000"/>
<rect x="4" y="450" width="1681" height="2" fill="#32cd32"/>
<rect x="3" y="297" width="6" height="6" fill="#ff0000"/><rect x="5" y="299" width="2" height="2" fill="#fff"/>
<rect x="1678" y="297" width="6" height="6" fill="#ff0000"/><rect x="1680" y="299" width="2" height="2" fill="#fff"/>
<path d="M1341.6 5h9.6l-4.8 5.3z" fill="#7089a4" shape-rendering="auto"/>
<path d="M7 11h7l-3.5 4z" fill="#000"/>
<path d="M1685 27h2v1h-2zM1685 60h2v1h-2zM1685 93h2v1h-2zM1685 126h2v1h-2zM1685 159h2v1h-2zM1685 192h2v1h-2zM1685 225h2v1h-2zM1685 258h2v1h-2zM1685 291h2v1h-2zM1685 324h2v1h-2zM1685 357h2v1h-2zM1685 390h2v1h-2zM1685 423h2v1h-2zM1685 456h2v1h-2zM1685 489h2v1h-2zM1685 522h2v1h-2zM1685 597h1v1h-1zM1685 819h1v1h-1zM4 821h1v3h-1zM68 821h1v3h-1zM132 821h1v3h-1zM196 821h1v3h-1zM260 821h1v3h-1zM324 821h1v3h-1zM388 821h1v3h-1zM452 821h1v3h-1zM516 821h1v3h-1zM580 821h1v3h-1zM644 821h1v3h-1zM708 821h1v3h-1zM772 821h1v3h-1zM836 821h1v3h-1zM900 821h1v3h-1zM964 821h1v3h-1zM1028 821h1v3h-1zM1092 821h1v3h-1zM1156 821h1v3h-1zM1220 821h1v3h-1zM1284 821h1v3h-1z" fill="#000"/>
</svg>
<div style="position:absolute;left:0;top:0;width:1724px;height:842px;font-size:10px;letter-spacing:-0.35px;line-height:13px;color:#000;white-space:pre">
<span style="position:absolute;left:19px;top:6px;color:#000;">XAUUSD-,H4  1752.54 1753.62 1746.36 1746.78</span>
<span style="position:absolute;left:1690px;top:21px;color:#000;letter-spacing:-0.5px">1834.45</span>
<span style="position:absolute;left:1690px;top:54px;color:#000;letter-spacing:-0.5px">1827.85</span>
<span style="position:absolute;left:1690px;top:87px;color:#000;letter-spacing:-0.5px">1821.25</span>
<span style="position:absolute;left:1690px;top:120px;color:#000;letter-spacing:-0.5px">1814.65</span>
<span style="position:absolute;left:1690px;top:153px;color:#000;letter-spacing:-0.5px">1808.05</span>
<span style="position:absolute;left:1690px;top:186px;color:#000;letter-spacing:-0.5px">1801.45</span>
<span style="position:absolute;left:1690px;top:219px;color:#000;letter-spacing:-0.5px">1795.00</span>
<span style="position:absolute;left:1690px;top:252px;color:#000;letter-spacing:-0.5px">1788.40</span>
<span style="position:absolute;left:1690px;top:285px;color:#000;letter-spacing:-0.5px">1781.80</span>
<span style="position:absolute;left:1690px;top:318px;color:#000;letter-spacing:-0.5px">1775.20</span>
<span style="position:absolute;left:1690px;top:351px;color:#000;letter-spacing:-0.5px">1768.60</span>
<span style="position:absolute;left:1690px;top:384px;color:#000;letter-spacing:-0.5px">1762.00</span>
<span style="position:absolute;left:1690px;top:417px;color:#000;letter-spacing:-0.5px">1755.55</span>
<span style="position:absolute;left:1690px;top:450px;color:#000;letter-spacing:-0.5px">1748.95</span>
<span style="position:absolute;left:1690px;top:483px;color:#000;letter-spacing:-0.5px">1742.35</span>
<span style="position:absolute;left:1690px;top:516px;color:#000;letter-spacing:-0.5px">1735.75</span>
<span style="position:absolute;left:1686px;top:43px;width:38px;height:11px;background:#ff0000"></span><span style="position:absolute;left:1690px;top:42px;color:#fff;letter-spacing:-0.5px">1830.00</span>
<span style="position:absolute;left:1686px;top:194px;width:38px;height:11px;background:#ff0000"></span><span style="position:absolute;left:1690px;top:193px;color:#fff;letter-spacing:-0.5px">1800.00</span>
<span style="position:absolute;left:1686px;top:294px;width:38px;height:11px;background:#ff0000"></span><span style="position:absolute;left:1690px;top:293px;color:#fff;letter-spacing:-0.5px">1780.00</span>
<span style="position:absolute;left:1686px;top:445px;width:38px;height:11px;background:#32cd32"></span><span style="position:absolute;left:1690px;top:444px;color:#fff;letter-spacing:-0.5px">1750.00</span>
<span style="position:absolute;left:1686px;top:462px;width:38px;height:11px;background:#000"></span><span style="position:absolute;left:1690px;top:461px;color:#fff;letter-spacing:-0.5px">1746.78</span>
<span style="position:absolute;left:8px;top:530px;color:#000;">MACD(12,26,9) -5.681 -3.962</span>
<span style="position:absolute;left:8px;top:698px;color:#000;">RSI(14) 38.3519</span>
<span style="position:absolute;left:1688px;top:528px;color:#000;">9.3</span>
<span style="position:absolute;left:1688px;top:591px;color:#000;">0.00</span>
<span style="position:absolute;left:1688px;top:680px;color:#000;">-13.027</span>
<span style="position:absolute;left:1688px;top:696px;color:#000;">100</span>
<span style="position:absolute;left:1688px;top:727px;color:#000;">70</span>
<span style="position:absolute;left:1688px;top:777px;color:#000;">30</span>
<span style="position:absolute;left:1688px;top:807px;color:#000;">0</span>
<span style="position:absolute;left:3px;top:823px;color:#000;">18 Aug 2021</span>
<span style="position:absolute;left:67px;top:823px;color:#000;">19 Aug 12:00</span>
<span style="position:absolute;left:131px;top:823px;color:#000;">22 Aug 23:00</span>
<span style="position:absolute;left:195px;top:823px;color:#000;">24 Aug 04:00</span>
<span style="position:absolute;left:259px;top:823px;color:#000;">25 Aug 12:00</span>
<span style="position:absolute;left:323px;top:823px;color:#000;">26 Aug 20:00</span>
<span style="position:absolute;left:387px;top:823px;color:#000;">30 Aug 04:00</span>
<span style="position:absolute;left:451px;top:823px;color:#000;">31 Aug 12:00</span>
<span style="position:absolute;left:515px;top:823px;color:#000;">1 Sep 20:00</span>
<span style="position:absolute;left:579px;top:823px;color:#000;">3 Sep 04:00</span>
<span style="position:absolute;left:643px;top:823px;color:#000;">6 Sep 12:00</span>
<span style="position:absolute;left:707px;top:823px;color:#000;">7 Sep 20:00</span>
<span style="position:absolute;left:771px;top:823px;color:#000;">9 Sep 00:00</span>
<span style="position:absolute;left:835px;top:823px;color:#000;">10 Sep 08:00</span>
<span style="position:absolute;left:899px;top:823px;color:#000;">13 Sep 16:00</span>
<span style="position:absolute;left:963px;top:823px;color:#000;">15 Sep 00:00</span>
<span style="position:absolute;left:1027px;top:823px;color:#000;">16 Sep 08:00</span>
<span style="position:absolute;left:1091px;top:823px;color:#000;">17 Sep 16:00</span>
<span style="position:absolute;left:1155px;top:823px;color:#000;">21 Sep 00:00</span>
<span style="position:absolute;left:1219px;top:823px;color:#000;">22 Sep 08:00</span>
<span style="position:absolute;left:1283px;top:823px;color:#000;">23 Sep 16:00</span>
</div>
</body></html>
